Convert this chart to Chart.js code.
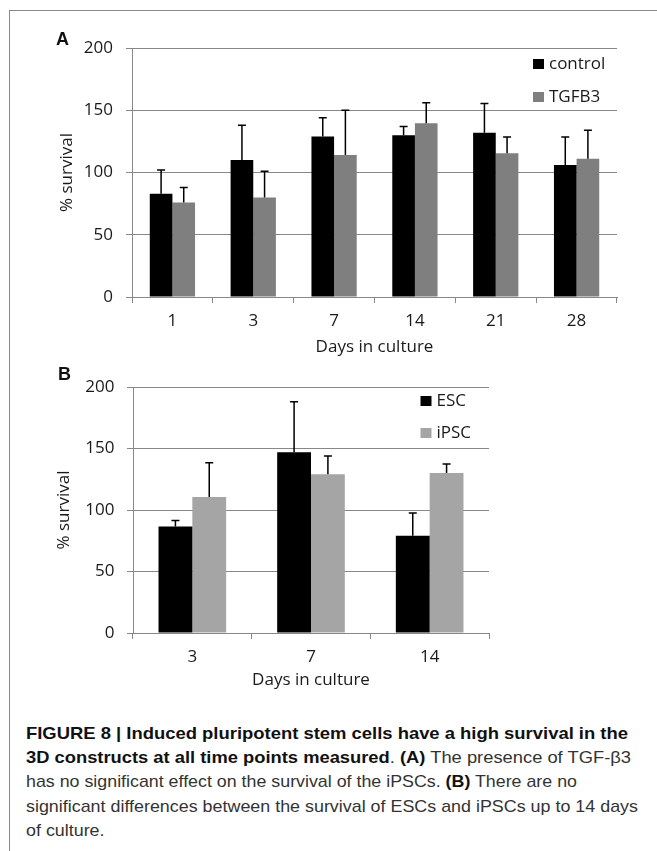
<!DOCTYPE html>
<html>
<head>
<meta charset="utf-8">
<script src="https://cdn.jsdelivr.net/npm/chart.js@4.4.1/dist/chart.umd.min.js"></script>
<style>
  body { margin: 0; background: #fff; width: 657px; height: 851px; overflow: hidden; position: relative; }
  .frame { position: absolute; left: 9px; top: 10px; right: -2px; bottom: -2px; border-left: 1.5px solid #888; border-top: 1.5px solid #888; }
  .panel { position: absolute; left: 0; width: 657px; }
  .letter { position: absolute; font: bold 18px 'Liberation Sans', Arial, sans-serif; color: #111; }
  .caption { position: absolute; left: 26px; top: 722px; font: 17px/24.2px 'Liberation Sans', Arial, sans-serif; color: #333; white-space: nowrap; }
  .caption span { display: inline-block; transform-origin: 0 0; }
  .caption b { color: #111; }
</style>
</head>
<body>
<div class="frame"></div>
<div class="panel" style="top:0;height:360px"><canvas id="chartA" width="657" height="360"></canvas></div>
<div class="panel" style="top:360px;height:335px"><canvas id="chartB" width="657" height="335"></canvas></div>
<div class="letter" style="left:56px;top:29px">A</div>
<div class="letter" style="left:58px;top:364px">B</div>
<div class="caption" id="caption">
  <span data-w="602"><b>FIGURE 8 | Induced pluripotent stem cells have a high survival in the</b></span><br>
  <span data-w="605"><b>3D constructs at all time points measured</b>. <b>(A)</b> The presence of TGF-β3</span><br>
  <span data-w="551">has no significant effect on the survival of the iPSCs. <b>(B)</b> There are no</span><br>
  <span data-w="612">significant differences between the survival of ESCs and iPSCs up to 14 days</span><br>
  <span>of culture.</span>
</div>
<script>
// Panel A data
const daysA = ['1', '3', '7', '14', '21', '28'];
const controlMean = [83, 110, 129, 130, 132, 106];
const controlSd = [19, 28, 15, 7, 23.5, 22.5];
const tgfb3Mean = [76, 80, 114, 139.5, 115.5, 111];
const tgfb3Sd = [12, 21, 36, 16.5, 13, 23];

// Panel B data
const daysB = ['3', '7', '14'];
const escMean = [86.5, 147, 79];
const escSd = [5, 41, 18.5];
const ipscMean = [110.5, 129, 130];
const ipscSd = [28, 15, 7.5];

const yTicks = [0, 50, 100, 150, 200];

Chart.defaults.font.family = "'Open Sans', 'Noto Sans', sans-serif";
Chart.defaults.font.size = 17;
Chart.defaults.color = '#1a1a1a';

// upper error bars only, with a short cap
const errorBars = {
    id: 'errorBars',
    afterDatasetsDraw(chart) {
        const ctx = chart.ctx;
        const y = chart.scales.y;
        chart.data.datasets.forEach((ds, i) => {
            chart.getDatasetMeta(i).data.forEach((bar, j) => {
                const top = y.getPixelForValue(ds.data[j] + ds.sd[j]);
                ctx.save();
                ctx.strokeStyle = '#000';
                ctx.lineWidth = 1.5;
                ctx.beginPath();
                ctx.moveTo(bar.x, bar.y);
                ctx.lineTo(bar.x, top);
                ctx.moveTo(bar.x - 4, top);
                ctx.lineTo(bar.x + 4, top);
                ctx.stroke();
                ctx.restore();
            });
        });
    }
};

// stacked legend inside the plot, top right
const boxLegend = {
    id: 'boxLegend',
    afterDraw(chart, args, opts) {
        const ctx = chart.ctx;
        const area = chart.chartArea;
        chart.data.datasets.forEach((ds, i) => {
            const bx = area.right - opts.dx;
            const by = area.top + opts.dy + i * opts.gap;
            ctx.save();
            ctx.fillStyle = ds.backgroundColor;
            ctx.fillRect(bx, by, 11, 10);
            ctx.fillStyle = '#1a1a1a';
            ctx.font = "17px 'Open Sans', 'Noto Sans', sans-serif";
            ctx.textBaseline = 'middle';
            ctx.fillText(ds.label, bx + 16, by + 5);
            ctx.restore();
        });
    }
};

function makeChart(id, labels, sets, o) {
    return new Chart(document.getElementById(id), {
        type: 'bar',
        data: {
            labels: labels,
            datasets: sets.map(s => ({
                label: s.label,
                data: s.mean,
                sd: s.sd,
                backgroundColor: s.color,
                categoryPercentage: o.catPct,
                barPercentage: 1.0
            }))
        },
        options: {
            responsive: false,
            animation: false,
            layout: { padding: { left: 0, top: o.top, right: o.right, bottom: 0 } },
            plugins: {
                legend: { display: false },
                tooltip: { enabled: false },
                boxLegend: o.legend
            },
            scales: {
                x: {
                    grid: { drawOnChartArea: false, tickLength: 6, color: '#888' },
                    border: { color: '#888' },
                    ticks: { padding: 8 },
                    title: { display: true, text: 'Days in culture', padding: { top: 0, bottom: o.titlePad } },
                    afterFit: s => { s.height = o.xHeight; }
                },
                y: {
                    min: 0,
                    max: 200,
                    afterBuildTicks: s => { s.ticks = yTicks.map(v => ({ value: v })); },
                    grid: { color: '#888', tickLength: 6 },
                    border: { color: '#888' },
                    ticks: { padding: o.yPad },
                    title: { display: true, text: '% survival', padding: { top: o.yTitle, bottom: 0 } },
                    afterFit: s => { s.width = o.yWidth; }
                }
            }
        },
        plugins: [errorBars, boxLegend]
    });
}

makeChart('chartA', daysA, [
    { label: 'control', mean: controlMean, sd: controlSd, color: '#000000' },
    { label: 'TGFB3', mean: tgfb3Mean, sd: tgfb3Sd, color: '#7f7f7f' }
], { catPct: 0.56, top: 48, right: 40, xHeight: 63, titlePad: 3, yPad: 13, yTitle: 57, yWidth: 132,
     legend: { dx: 84, dy: 11, gap: 33 } });

makeChart('chartB', daysB, [
    { label: 'ESC', mean: escMean, sd: escSd, color: '#000000' },
    { label: 'iPSC', mean: ipscMean, sd: ipscSd, color: '#a5a5a5' }
], { catPct: 0.57, top: 27, right: 168, xHeight: 62, titlePad: 5, yPad: 12.5, yTitle: 54, yWidth: 133,
     legend: { dx: 68.5, dy: 9, gap: 32 } });

// squeeze each caption line to the narrow face used in the reference
let k = 1;
document.querySelectorAll('#caption span[data-w]').forEach(sp => {
    k = sp.dataset.w / sp.getBoundingClientRect().width;
    sp.style.transform = 'scaleX(' + k + ')';
});
document.querySelector('#caption span:not([data-w])').style.transform = 'scaleX(' + k + ')';
</script>
</body>
</html>
